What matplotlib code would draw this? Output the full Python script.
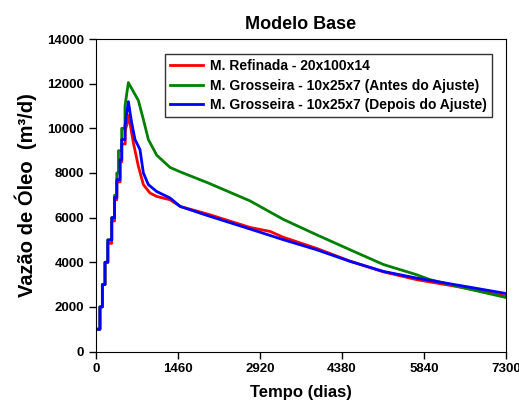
import matplotlib.pyplot as plt

plt.rcParams['font.family'] = ['Liberation Sans', 'DejaVu Sans']
plt.rcParams['font.weight'] = 'bold'

# Dados (tempo em dias, vazão em m3/d)
t_refinada = [0, 70, 70, 113, 113, 160, 160, 210, 210, 280, 280, 330, 330, 370, 370,
              430, 430, 460, 460, 520, 520, 594, 600, 665, 754, 843, 962, 1080, 1318,
              1500, 2000, 2742, 3100, 3336, 3929, 4523, 5116, 5710, 6500, 7300]
q_refinada = [1000, 1000, 2000, 2000, 3000, 3000, 4000, 4000, 4850, 4850, 5850, 5850,
              6800, 6800, 7600, 7600, 8500, 8500, 9300, 9300, 9900, 10600, 10300, 9350,
              8300, 7480, 7100, 6950, 6800, 6500, 6150, 5560, 5380, 5120, 4620, 4050,
              3570, 3220, 2880, 2480]

t_antes = [0, 70, 70, 113, 113, 160, 160, 210, 210, 280, 280, 330, 330, 370, 370,
           400, 400, 457, 457, 516, 516, 576, 665, 754, 843, 932, 1080, 1318, 1500,
           2000, 2742, 3336, 3929, 4523, 5116, 5710, 5947, 6500, 7300]
q_antes = [1000, 1000, 2000, 2000, 3000, 3000, 4000, 4000, 5000, 5000, 6000, 6000,
           7000, 7000, 8000, 8000, 9000, 9000, 10000, 10000, 11000, 12050, 11650,
           11250, 10400, 9500, 8800, 8250, 8050, 7550, 6750, 5920, 5230, 4560, 3900,
           3440, 3220, 2880, 2420]

t_depois = [0, 70, 70, 113, 113, 160, 160, 210, 210, 280, 280, 330, 330, 370, 370,
            427, 427, 457, 457, 516, 516, 576, 635, 694, 783, 843, 932, 1080, 1318,
            1500, 2000, 2742, 3336, 3929, 4523, 5116, 5710, 6500, 7300]
q_depois = [1000, 1000, 2000, 2000, 3000, 3000, 4000, 4000, 5000, 5000, 6000, 6000,
            6900, 6900, 7700, 7700, 8600, 8600, 9500, 9500, 10100, 11200, 10250, 9500,
            9050, 8000, 7480, 7170, 6880, 6500, 6080, 5490, 5010, 4560, 4040, 3590,
            3290, 2950, 2600]

x_ticks = [0, 1460, 2920, 4380, 5840, 7300]
y_ticks = [0, 2000, 4000, 6000, 8000, 10000, 12000, 14000]

fig = plt.figure(figsize=(5.19, 4.16), dpi=100)
ax = fig.add_axes([0.185, 0.155, 0.79, 0.751])

ax.plot(t_refinada, q_refinada, color='#ff0000', lw=2, label='M. Refinada - 20x100x14')
ax.plot(t_antes, q_antes, color='#008000', lw=2,
        label='M. Grosseira - 10x25x7 (Antes do Ajuste)')
ax.plot(t_depois, q_depois, color='#0000ff', lw=2,
        label='M. Grosseira - 10x25x7 (Depois do Ajuste)')

ax.set_xlim(0, 7300)
ax.set_ylim(0, 14000)
ax.set_xticks(x_ticks)
ax.set_yticks(y_ticks)
ax.tick_params(direction='out', length=5, width=1, labelsize=9.5)
for lbl in ax.get_xticklabels() + ax.get_yticklabels():
    lbl.set_fontweight('bold')

ax.set_title('Modelo Base', fontsize=13, fontweight='bold', pad=7)
ax.set_xlabel('Tempo (dias)', fontsize=12, fontweight='bold', labelpad=7)
ax.set_ylabel('Vazão de Óleo  (m³/d)', fontsize=14.5, fontweight='bold', labelpad=7)

leg = ax.legend(loc='upper right', bbox_to_anchor=(0.966, 0.952), fontsize=10,
                frameon=True, fancybox=False, edgecolor='black', handlelength=2.4,
                borderpad=0.35, labelspacing=0.4, handletextpad=0.5,
                borderaxespad=0)
leg.get_frame().set_linewidth(1)
for txt in leg.get_texts():
    txt.set_fontweight('bold')

plt.savefig('out.png', dpi=100)
